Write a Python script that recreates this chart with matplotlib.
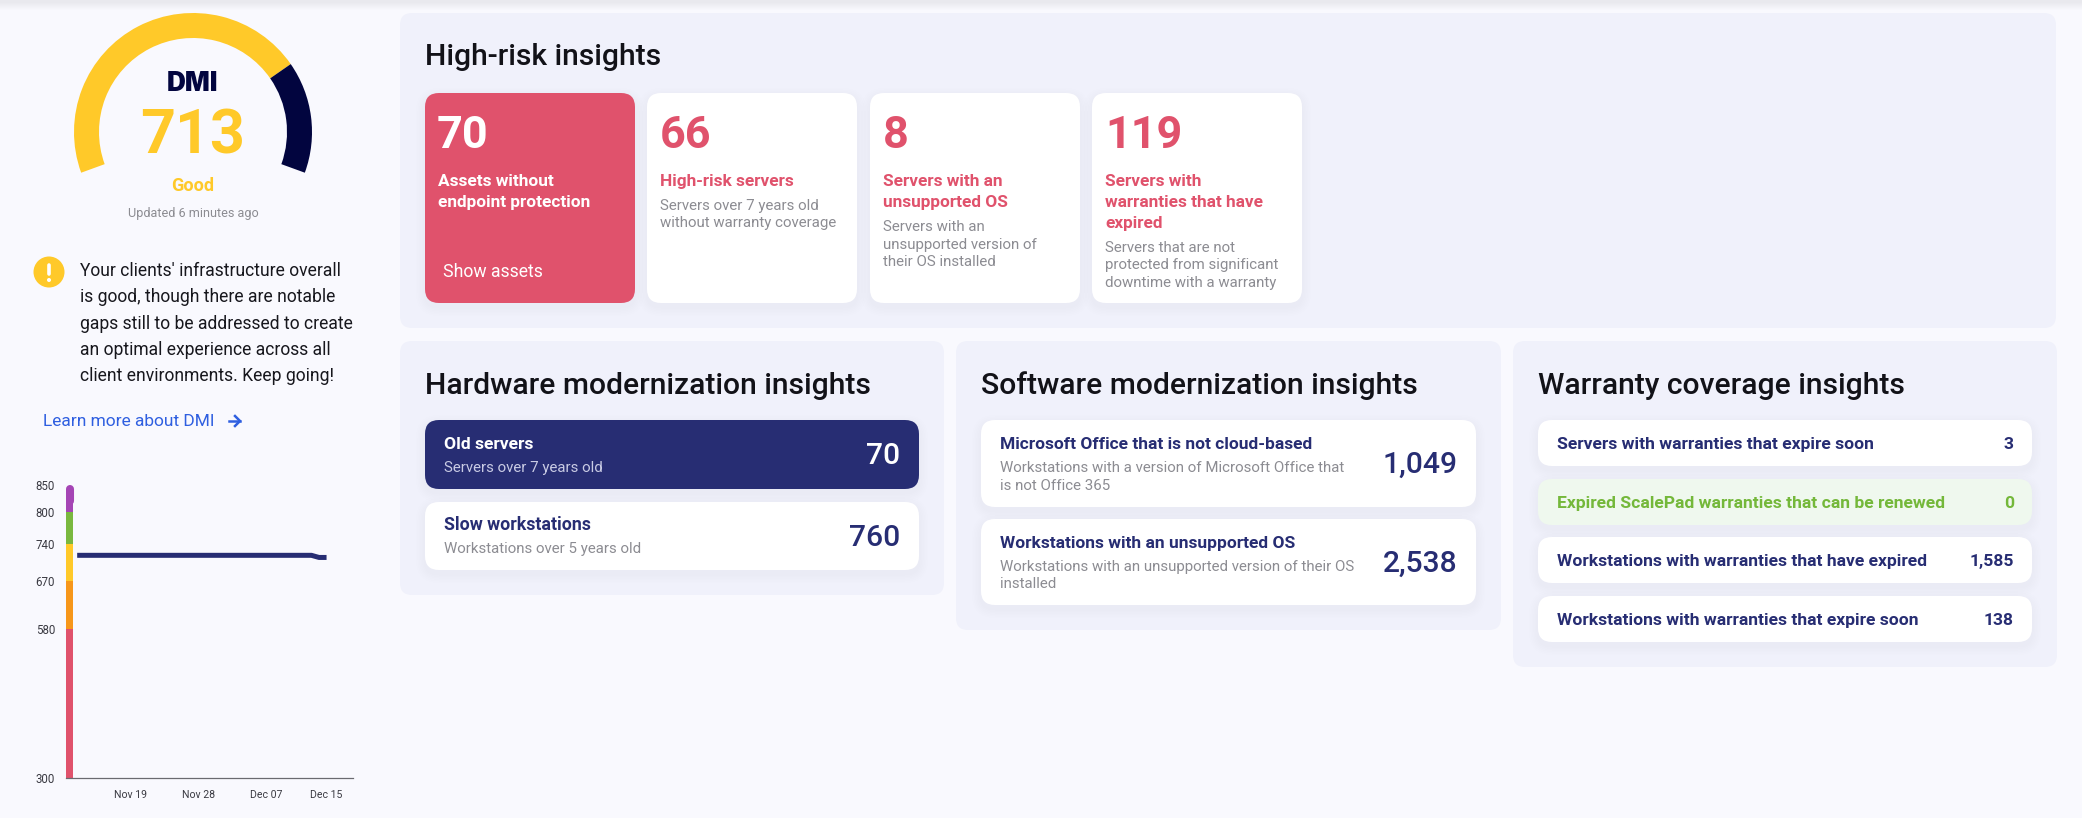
import matplotlib
matplotlib.use('Agg')
from matplotlib import pyplot as plt
from matplotlib.patches import FancyBboxPatch, Wedge, Circle, Rectangle
import matplotlib.dates as mdates
import pandas as pd

# data
score = 713
score_min = 300
score_max = 850
band_edges = [300, 580, 670, 740, 800, 850]
band_colors = ['#E0526C', '#F7971A', '#FFC929', '#7AB83F', '#A545B5']
band_date = '2023-11-11'
trend_dates = ['2023-11-12', '2023-11-19', '2023-11-28', '2023-12-07', '2023-12-13', '2023-12-14', '2023-12-15']
trend_values = [718, 718, 718, 718, 718, 714, 714]
tick_dates = ['2023-11-19', '2023-11-28', '2023-12-07', '2023-12-15']

risk_numbers = ['70', '66', '8', '119']
risk_titles = [['Assets without', 'endpoint protection'], ['High-risk servers'],
               ['Servers with an', 'unsupported OS'], ['Servers with', 'warranties that have', 'expired']]
risk_descs = [[], ['Servers over 7 years old', 'without warranty coverage'],
              ['Servers with an', 'unsupported version of', 'their OS installed'],
              ['Servers that are not', 'protected from significant', 'downtime with a warranty']]
hw_titles = ['Old servers', 'Slow workstations']
hw_descs = ['Servers over 7 years old', 'Workstations over 5 years old']
hw_values = ['70', '760']
sw_titles = ['Microsoft Office that is not cloud-based', 'Workstations with an unsupported OS']
sw_descs = [['Workstations with a version of Microsoft Office that', 'is not Office 365'],
            ['Workstations with an unsupported version of their OS', 'installed']]
sw_values = ['1,049', '2,538']
wa_titles = ['Servers with warranties that expire soon', 'Expired ScalePad warranties that can be renewed',
             'Workstations with warranties that have expired', 'Workstations with warranties that expire soon']
wa_values = ['3', '0', '1,585', '138']
para = ["Your clients' infrastructure overall", 'is good, though there are notable',
        'gaps still to be addressed to create', 'an optimal experience across all',
        'client environments. Keep going!']

W, H = 2082, 818
PAGE = '#F9F9FE'
PANEL = '#F0F1FB'
NAVY = '#272D73'
RED = '#E0526C'
YELLOW = '#FFC929'
DARK = '#02053F'
GREY = '#8C8C92'
INK = '#121218'

plt.rcParams['font.family'] = ['Roboto', 'DejaVu Sans']

fig = plt.figure(figsize=(W / 100, H / 100), dpi=100, facecolor=PAGE)
ax = fig.add_axes([0, 0, 1, 1])
ax.set_xlim(0, W)
ax.set_ylim(H, 0)
ax.axis('off')


def txt(x, y, s, px, color=INK, weight='normal', ha='left', family=None):
    t = ax.text(x, y, s, fontsize=px * 0.72, color=color, fontweight=weight, ha=ha, va='baseline')
    if family:
        t.set_fontfamily(family)


def box(x0, y0, x1, y1, r, fc, shadow=False):
    if shadow:
        for i in range(6):
            g = (6 - i) * 1.5
            ax.add_patch(FancyBboxPatch((x0 - g, y0 - g + 4), x1 - x0 + 2 * g, y1 - y0 + 2 * g,
                                        boxstyle='round,pad=0,rounding_size=%f' % (r + g),
                                        fc='#30356F', ec='none', alpha=0.005))
    ax.add_patch(FancyBboxPatch((x0, y0), x1 - x0, y1 - y0, boxstyle='round,pad=0,rounding_size=%f' % r,
                                fc=fc, ec='none'))


# browser shadow along the top edge
for i in range(8):
    ax.add_patch(Rectangle((0, 0), W, 10 - i, fc='#60606A', ec='none', alpha=0.01))

# gauge
cx, cy = 193, 132
split = 200 - 220 * (score - score_min) / (score_max - score_min)
ax.add_patch(Wedge((cx, cy), 119, -200, -split, width=25, fc=YELLOW, ec='none'))
ax.add_patch(Wedge((cx, cy), 119, -split, 20, width=25, fc=DARK, ec='none'))
txt(192, 91, 'DMI', 26, DARK, 900, 'center', 'Inter')
txt(193, 153, str(score), 61, YELLOW, 'bold', 'center')
txt(193, 191, 'Good', 18, YELLOW, 'bold', 'center')
txt(193, 217, 'Updated 6 minutes ago', 12.6, GREY, 'normal', 'center')

# advice text
ax.add_patch(Circle((49, 272), 15.5, fc=YELLOW, ec='none'))
ax.plot([49, 49], [265, 274], color='white', lw=2.6, solid_capstyle='round')
ax.add_patch(Circle((49, 280), 2, fc='white', ec='none'))
for y, line in zip([276, 302, 329, 355, 381], para):
    txt(80, y, line, 17.55, '#17171D')
txt(43, 426, 'Learn more about DMI', 17.4, '#2F5FE0')
ax.plot([229, 240], [421, 421], color='#2F5FE0', lw=1.8)
ax.plot([235, 240, 235], [416, 421, 426], color='#2F5FE0', lw=1.8)

# high-risk panel
box(400, 13, 2056, 328, 12, PANEL)
txt(425, 65, 'High-risk insights', 30, INK, 500)
card_x = [425, 647, 870, 1092]
for i, x0 in enumerate(card_x):
    hot = i == 0
    box(x0, 93, x0 + 210, 303, 14, RED if hot else 'white', True)
    col = 'white' if hot else RED
    txt(x0 + 13 - hot, 148, risk_numbers[i], 45, col, 'bold')
    y = 186
    for line in risk_titles[i]:
        txt(x0 + 13, y, line, 17.3, col, 'bold')
        y += 21
    y += 3
    for line in risk_descs[i]:
        txt(x0 + 13, y, line, 15, GREY)
        y += 17.5
txt(443, 277, 'Show assets', 17.6, 'white', 'normal')

# hardware panel
box(400, 341, 944, 595, 12, PANEL)
txt(425, 394, 'Hardware modernization insights', 30, INK, 500)
hw_sizes = [17.5, 17.8]
for i, (y0, y1) in enumerate([(420, 489), (502, 570)]):
    hot = i == 0
    box(425, y0, 919, y1, 14, NAVY if hot else 'white', True)
    txt(444, y0 + 29 - i, hw_titles[i], hw_sizes[i], 'white' if hot else NAVY, 'bold')
    txt(444, y0 + 52 - i, hw_descs[i], 15, '#C9CBE4' if hot else GREY)
    txt(900, y0 + 44, hw_values[i], 30, 'white' if hot else NAVY, 500, 'right')

# software panel
box(956, 341, 1501, 630, 12, PANEL)
txt(981, 394, 'Software modernization insights', 30, INK, 500)
for i, (y0, y1) in enumerate([(420, 507), (519, 605)]):
    box(981, y0, 1476, y1, 14, 'white', True)
    txt(1000, y0 + 29, sw_titles[i], 17.35, NAVY, 'bold')
    txt(1000, y0 + 52, sw_descs[i][0], 15, GREY)
    txt(1000, y0 + 70 - i, sw_descs[i][1], 15, GREY)
    txt(1457.5, y0 + 53, sw_values[i], 30, NAVY, 500, 'right')

# warranty panel
box(1513, 341, 2057, 667, 12, PANEL)
txt(1538, 394, 'Warranty coverage insights', 30, INK, 500)
for i, (y0, y1) in enumerate([(420, 466), (479, 525), (537, 583), (596, 642)]):
    green = i == 1
    box(1538, y0, 2032, y1, 14, '#EFF8EE' if green else 'white', True)
    col = '#74B83A' if green else NAVY
    txt(1557, y0 + 29, wa_titles[i], 17.5, col, 'bold')
    txt(2014, y0 + 29, wa_values[i], 17.5, col, 'bold', 'right')

# score history chart
hx = fig.add_axes([66 / W, 1 - 778 / H, (353 - 66) / W, (778 - 485) / H])
hx.patch.set_alpha(0)
band_x = mdates.date2num(pd.Timestamp(band_date))
for lo, hi, c in zip(band_edges[:-1], band_edges[1:], band_colors):
    if hi == score_max:
        hx.bar(band_x, hi - lo - 8, width=1.02, bottom=lo, color=c)
        hx.plot([band_x, band_x], [lo + 20, hi - 8], color=c, lw=5.8, solid_capstyle='round')
    else:
        hx.bar(band_x, hi - lo, width=1.02, bottom=lo, color=c)
hx.plot(mdates.date2num(pd.to_datetime(trend_dates)), trend_values, color=NAVY, lw=3.6,
        solid_capstyle='butt', solid_joinstyle='round')
hx.set_xlim(mdates.date2num(pd.Timestamp('2023-11-10 12:30')), mdates.date2num(pd.Timestamp('2023-12-18 12:00')))
hx.set_ylim(score_min, score_max)
hx.set_yticks(band_edges)
hx.set_xticks(mdates.date2num(pd.to_datetime(tick_dates)))
hx.xaxis.set_major_formatter(mdates.DateFormatter('%b %d'))
hx.tick_params(axis='both', length=0, labelsize=7.6, labelcolor='#3A3A42')
hx.tick_params(axis='x', pad=9)
hx.tick_params(axis='y', pad=7.8, labelsize=8.3)
for s in ['top', 'right', 'left']:
    hx.spines[s].set_visible(False)
hx.spines['bottom'].set_color('#6A6A70')
hx.spines['bottom'].set_linewidth(0.9)

fig.savefig('out.png', dpi=100, facecolor=PAGE)
